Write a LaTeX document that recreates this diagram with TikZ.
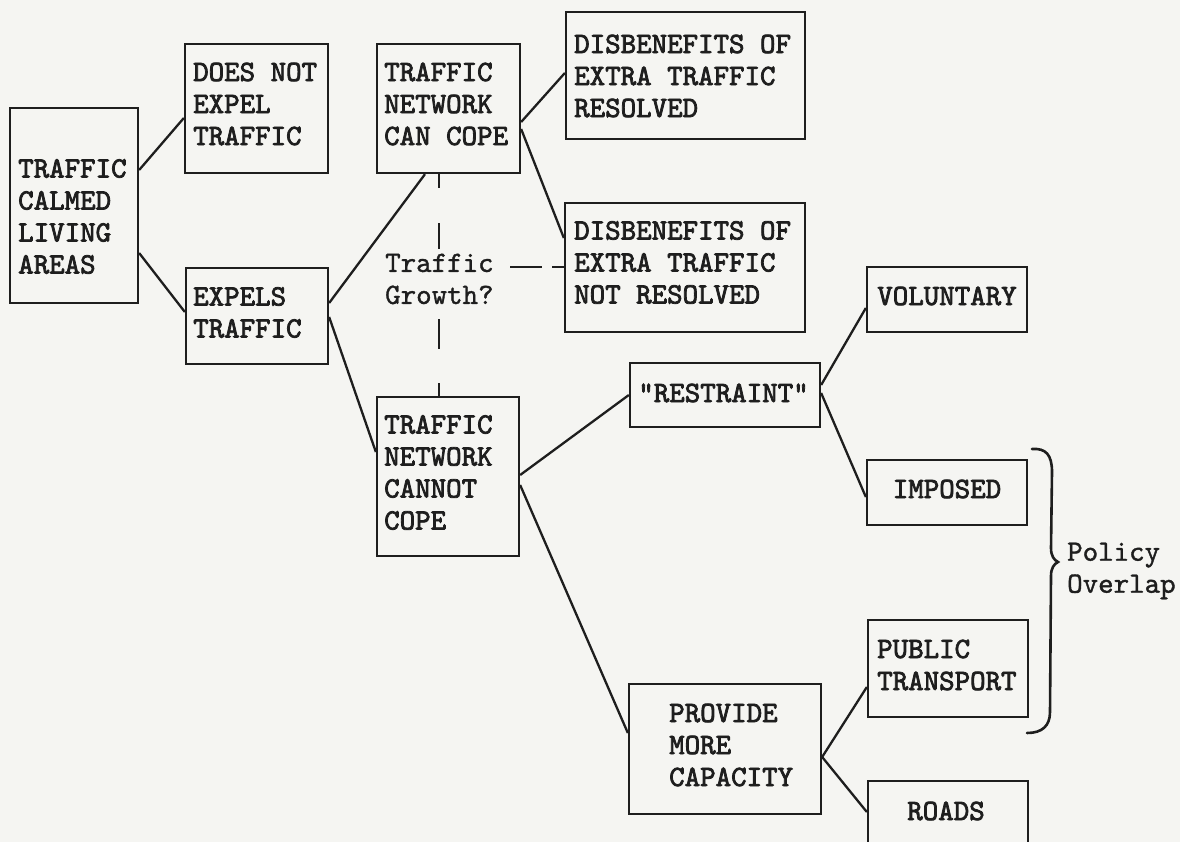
\documentclass[tikz,border=0pt]{standalone}
\usepackage{fontspec}
\newfontfamily\prn{lmmono10-regular.otf}[FakeBold=2.6]
\newfontfamily\prnlight{lmmono10-regular.otf}[FakeBold=1.2]
\definecolor{ink}{HTML}{1E1E1E}
\definecolor{paper}{HTML}{F5F5F2}
\tikzset{
  boxnode/.style={draw=ink, line width=2.3pt, rectangle, inner sep=0pt},
  txt/.style={inner sep=0pt, align=left, text=ink, font=\prn\fontsize{29.5}{32}\selectfont},
  ltxt/.style={inner sep=0pt, align=left, text=ink, font=\prnlight\fontsize{29.5}{32}\selectfont},
  conn/.style={draw=ink, line width=2.3pt},
}
\begin{document}
\begin{tikzpicture}[x=1pt,y=-1pt]
\path[use as bounding box, fill=paper] (0,0) rectangle (1180,842);
\clip (0,0) rectangle (1180,842);

% boxes
\node[boxnode, minimum width=128pt, minimum height=195pt] (A) at (74,205.5) {};
\node[txt, anchor=west] (At) at (18,216.5) {TRAFFIC\\CALMED\\LIVING\\AREAS};

\node[boxnode, minimum width=143pt, minimum height=129pt] (B) at (256.5,108.5) {};
\node[txt, anchor=west] (Bt) at (193,104) {DOES NOT\\EXPEL\\TRAFFIC};

\node[boxnode, minimum width=143pt, minimum height=129pt] (C) at (448.5,108.5) {};
\node[txt, anchor=west] (Ct) at (384,104) {TRAFFIC\\NETWORK\\CAN COPE};

\node[boxnode, minimum width=239pt, minimum height=127pt] (DR) at (685.5,75.5) {};
\node[txt, anchor=west] (DRt) at (574,76) {DISBENEFITS OF\\EXTRA TRAFFIC\\RESOLVED};

\node[boxnode, minimum width=240pt, minimum height=129pt] (DN) at (685,267.5) {};
\node[txt, anchor=west] (DNt) at (574,262.5) {DISBENEFITS OF\\EXTRA TRAFFIC\\NOT RESOLVED};

\node[boxnode, minimum width=142pt, minimum height=96pt] (E) at (257,316) {};
\node[txt, anchor=west] (Et) at (193,312.5) {EXPELS\\TRAFFIC};

\node[boxnode, minimum width=142pt, minimum height=159pt] (F) at (448,476.5) {};
\node[txt, anchor=west] (Ft) at (384,472.5) {TRAFFIC\\NETWORK\\CANNOT\\COPE};

\node[boxnode, minimum width=160pt, minimum height=65pt] (V) at (947,299.5) {};
\node[txt] (Vt) at (947,296) {VOLUNTARY};

\node[boxnode, minimum width=190pt, minimum height=64pt] (R) at (725,395) {};
\node[txt] (Rt) at (723.5,393) {"RESTRAINT"};

\node[boxnode, minimum width=160pt, minimum height=65pt] (I) at (947,492.5) {};
\node[txt] (It) at (947,489) {IMPOSED};

\node[boxnode, minimum width=192pt, minimum height=130pt] (G) at (725,749) {};
\node[txt, anchor=west] (Gt) at (669,745) {PROVIDE\\MORE\\CAPACITY};

\node[boxnode, minimum width=160pt, minimum height=97pt] (P) at (948,668.5) {};
\node[txt, anchor=west] (Pt) at (877,665) {PUBLIC\\TRANSPORT};

\node[boxnode, minimum width=160pt, minimum height=119pt] (RD) at (948,840.5) {};
\node[txt] (RDt) at (946,811) {ROADS};

% free texts
\node[ltxt, anchor=west] (TG) at (385,279) {Traffic\\Growth?};
\node[ltxt, anchor=west] (PO) at (1067,571) {Policy\\Overlap};

% connectors
\draw[conn] (A.east |- 0,170) -- (B.west |- 0,118);
\draw[conn] (A.east |- 0,253) -- (E.west |- 0,312);
\draw[conn] (E.east |- 0,303) -- (C.south -| 425,0);
\draw[conn] (E.east |- 0,317) -- (F.west |- 0,452);
\draw[conn] (C.east |- 0,122) -- (DR.west |- 0,73);
\draw[conn] (C.east |- 0,129) -- (DN.west |- 0,238);
\draw[conn] (F.east |- 0,475) -- (R.west |- 0,395);
\draw[conn] (F.east |- 0,485) -- (G.west |- 0,733);
\draw[conn] (R.east |- 0,385) -- (V.west |- 0,308);
\draw[conn] (R.east |- 0,393) -- (I.west |- 0,497);
\draw[conn] (G.east |- 0,757) -- (P.west |- 0,687);
\draw[conn] (G.east |- 0,757) -- (RD.west |- 0,812);

% dashed links
\draw[conn, dash pattern=on 14pt off 35pt on 26pt off 70pt on 30pt off 34pt on 15pt]
  (C.south -| 439,0) -- (F.north -| 439,0);
\coordinate (hd) at (510,267);
\draw[conn, dash pattern=on 32pt off 10pt on 20pt] (hd) -- (DN.west |- hd);

% brace
\draw[conn, line width=2.6pt, line cap=round]
  (1032,449) .. controls (1046,448) and (1052,455) .. (1052,472)
  -- (1051,548) .. controls (1051,556) and (1054,560) .. (1058,562)
  .. controls (1054,564) and (1051,568) .. (1051,576)
  -- (1050,712) .. controls (1050,726) and (1042,733) .. (1027,733);
\end{tikzpicture}
\end{document}
